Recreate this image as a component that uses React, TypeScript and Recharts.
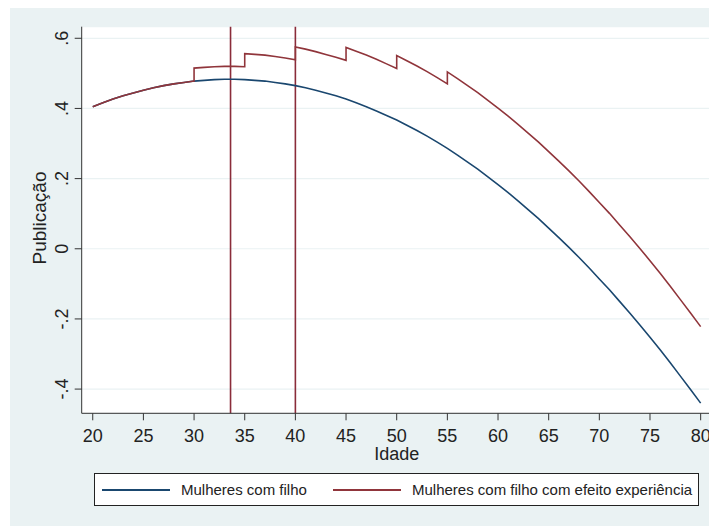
import React from 'react';
import { LineChart, Line, XAxis, YAxis, CartesianGrid, ReferenceLine, Legend, Label } from 'recharts';

// idade em anos (eixo x)
const idades = [
  20, 21, 22, 23, 24, 25, 26, 27, 28, 29, 30, 31, 32, 33, 34, 35, 36, 37, 38, 39, 40,
  41, 42, 43, 44, 45, 46, 47, 48, 49, 50, 51, 52, 53, 54, 55, 56, 57, 58, 59, 60,
  61, 62, 63, 64, 65, 66, 67, 68, 69, 70, 71, 72, 73, 74, 75, 76, 77, 78, 79, 80,
];

// Mulheres com filho
const comFilho = [
  0.405, 0.416, 0.427, 0.436, 0.444, 0.452, 0.459, 0.465, 0.470, 0.474, 0.478,
  0.480, 0.482, 0.483, 0.483, 0.482, 0.480, 0.478, 0.474, 0.470, 0.465,
  0.459, 0.452, 0.444, 0.436, 0.427, 0.416, 0.405, 0.393, 0.380, 0.367,
  0.352, 0.337, 0.321, 0.304, 0.286, 0.267, 0.247, 0.227, 0.205, 0.183,
  0.160, 0.136, 0.111, 0.086, 0.059, 0.032, 0.004, -0.025, -0.055, -0.086,
  -0.117, -0.150, -0.183, -0.217, -0.252, -0.288, -0.325, -0.363, -0.401, -0.440,
];

// idades da serie com efeito experiencia (saltos a cada 5 anos a partir dos 30)
const idadesExperiencia = [
  20, 21, 22, 23, 24, 25, 26, 27, 28, 29, 30,
  30, 31, 32, 33, 34, 35,
  35, 36, 37, 38, 39, 40,
  40, 41, 42, 43, 44, 45,
  45, 46, 47, 48, 49, 50,
  50, 51, 52, 53, 54, 55,
  55, 56, 57, 58, 59, 60, 61, 62, 63, 64, 65, 66, 67, 68, 69, 70,
  71, 72, 73, 74, 75, 76, 77, 78, 79, 80,
];

// Mulheres com filho com efeito experiencia
const comExperiencia = [
  0.405, 0.416, 0.427, 0.436, 0.444, 0.452, 0.459, 0.465, 0.470, 0.474, 0.478,
  0.515, 0.517, 0.519, 0.520, 0.520, 0.519,
  0.556, 0.554, 0.552, 0.548, 0.544, 0.539,
  0.575, 0.569, 0.562, 0.554, 0.546, 0.537,
  0.574, 0.563, 0.552, 0.540, 0.527, 0.514,
  0.551, 0.536, 0.521, 0.505, 0.488, 0.470,
  0.504, 0.485, 0.465, 0.445, 0.423, 0.401, 0.378, 0.354, 0.329, 0.304, 0.277,
  0.250, 0.222, 0.193, 0.163, 0.132, 0.101, 0.068, 0.035, 0.001, -0.034,
  -0.070, -0.107, -0.145, -0.183, -0.222,
];

const xTicks = [20, 25, 30, 35, 40, 45, 50, 55, 60, 65, 70, 75, 80];
const yTicks = [-0.4, -0.2, 0, 0.2, 0.4, 0.6];
const yTickLabels = ['-.4', '-.2', '0', '.2', '.4', '.6'];
const linhasVerticais = [33.6, 40];

const serieNomes = ['Mulheres com filho', 'Mulheres com filho com efeito experiência'];
const serieCores = ['#1a476f', '#90353b'];

const dadosFilho = idades.map((idade, i) => ({ idade, valor: comFilho[i] }));
const dadosExperiencia = idadesExperiencia.map((idade, i) => ({ idade, valor: comExperiencia[i] }));

const FONT = '"Liberation Sans", Arial, sans-serif';
const BG = '#eaf2f3';

const YTick = (props: any) => {
  const { x, y, payload } = props;
  const idx = yTicks.indexOf(payload.value);
  const bx = x - 4.5;
  return (
    <text x={bx} y={y} transform={`rotate(-90 ${bx} ${y})`} textAnchor="middle" fontSize={18} fontFamily={FONT} fill="#222">
      {idx >= 0 ? yTickLabels[idx] : payload.value}
    </text>
  );
};

const XTick = (props: any) => {
  const { x, y, payload } = props;
  return (
    <text x={x} y={y + 19.5} textAnchor="middle" fontSize={18} fontFamily={FONT} fill="#222">
      {payload.value}
    </text>
  );
};

const Legenda = () => (
  <div
    style={{
      position: 'relative',
      width: 603,
      height: 31,
      background: '#fff',
      border: '1px solid #222',
      fontFamily: FONT,
      fontSize: 15,
      color: '#222',
    }}
  >
    {serieNomes.map((nome, i) => {
      const left = i === 0 ? 7 : 238;
      return (
        <div key={nome} style={{ position: 'absolute', left, top: 0, height: 31, display: 'flex', alignItems: 'center' }}>
          <div style={{ width: 68, height: 2, background: serieCores[i] }} />
          <span style={{ marginLeft: 11, whiteSpace: 'nowrap' }}>{nome}</span>
        </div>
      );
    })}
  </div>
);

export default function App() {
  return (
    <div style={{ position: 'relative', width: 709, height: 518 }}>
      <div style={{ position: 'absolute', left: 2, top: 0, width: 707, height: 518, background: BG }} />
      <div style={{ position: 'absolute', left: 0, top: 0 }}>
        <LineChart width={709} height={518} margin={{ top: 18.7, right: 5.3, left: 13.7, bottom: 72.7 }}>
          <CartesianGrid vertical={false} stroke={BG} strokeWidth={1.2} fill="#fff" />
          <XAxis
            type="number"
            dataKey="idade"
            domain={[18.91, 81.09]}
            ticks={xTicks}
            allowDataOverflow
            height={40}
            tickSize={7}
            stroke="#333"
            tick={<XTick />}
          >
            <Label
              content={(p: any) => {
                const vb = p.viewBox;
                return (
                  <text x={vb.x + vb.width / 2} y={452} textAnchor="middle" fontSize={18} fontFamily={FONT} fill="#222">
                    Idade
                  </text>
                );
              }}
            />
          </XAxis>
          <YAxis
            type="number"
            domain={[-0.469, 0.633]}
            ticks={yTicks}
            allowDataOverflow
            width={60}
            tickSize={7}
            stroke="#333"
            tick={<YTick />}
          >
            <Label
              content={() => (
                <text x={38} y={210} transform="rotate(-90 38 210)" textAnchor="middle" fontSize={19} fontFamily={FONT} fill="#222">
                  Publicação
                </text>
              )}
            />
          </YAxis>
          {linhasVerticais.map((v) => (
            <ReferenceLine key={v} x={v} stroke="#8a2c3a" strokeWidth={1.6} ifOverflow="extendDomain" />
          ))}
          <Line
            data={dadosFilho}
            dataKey="valor"
            name={serieNomes[0]}
            type="linear"
            stroke={serieCores[0]}
            strokeWidth={1.6}
            dot={false}
            isAnimationActive={false}
          />
          <Line
            data={dadosExperiencia}
            dataKey="valor"
            name={serieNomes[1]}
            type="linear"
            stroke={serieCores[1]}
            strokeWidth={1.6}
            dot={false}
            isAnimationActive={false}
          />
          <Legend
            layout="horizontal"
            verticalAlign="middle"
            align="center"
            content={<Legenda />}
            wrapperStyle={{ position: 'absolute', left: 86, top: 465, width: 605, height: 33 }}
          />
        </LineChart>
      </div>
    </div>
  );
}
